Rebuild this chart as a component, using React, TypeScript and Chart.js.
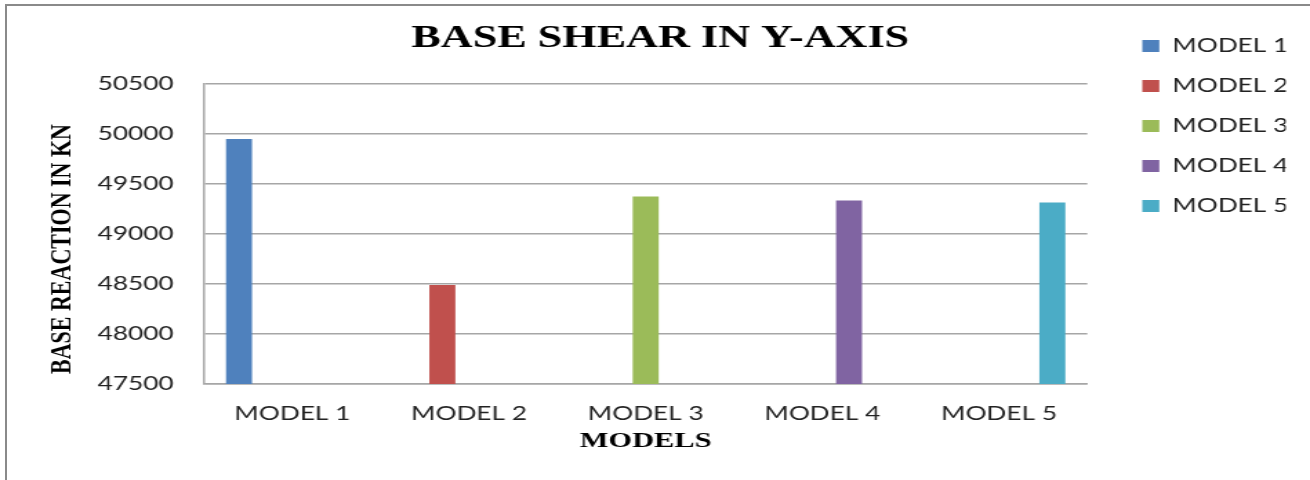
import React, { useEffect, useRef } from "react";
import { Chart, registerables } from "chart.js";

Chart.register(...registerables);

const CATEGORIES = ["MODEL 1", "MODEL 2", "MODEL 3", "MODEL 4", "MODEL 5"];
const SERIES_NAMES = ["MODEL 1", "MODEL 2", "MODEL 3", "MODEL 4", "MODEL 5"];
const VALUES = [49950, 48490, 49375, 49335, 49315];
const COLORS = ["#4F81BD", "#C0504D", "#9BBB59", "#8064A2", "#4BACC6"];
const Y_MIN = 47500;
const Y_MAX = 50500;
const Y_STEP = 500;
const TITLE = "BASE SHEAR IN Y-AXIS";
const Y_TITLE = "BASE REACTION IN KN";
const X_TITLE = "MODELS";

// The reference is horizontally stretched; draw on a narrower canvas and stretch it.
const STRETCH = 1.38;
const OUT_W = 1310;
const OUT_H = 480;
const CANVAS_W = Math.round(OUT_W / STRETCH);

const yTitlePlugin = {
  id: "yTitlePlugin",
  afterDraw(chart: any) {
    const ctx = chart.ctx;
    ctx.save();
    ctx.translate(45.3, 249);
    ctx.rotate(-Math.PI / 2);
    ctx.font = "bold 22px 'Liberation Serif'";
    ctx.fillStyle = "#000";
    ctx.textAlign = "center";
    ctx.textBaseline = "middle";
    ctx.fillText(Y_TITLE, 0, 0);
    ctx.restore();
  },
};

export default function App() {
  const ref = useRef<HTMLCanvasElement | null>(null);

  useEffect(() => {
    if (!ref.current) return;
    const datasets = SERIES_NAMES.map((name, i) => ({
      label: name,
      data: CATEGORIES.map((_, j) => (j === i ? VALUES[i] : null)),
      backgroundColor: COLORS[i],
      borderWidth: 0,
      categoryPercentage: 0.755,
      barPercentage: 0.975,
    }));
    const chart = new Chart(ref.current, {
      type: "bar",
      data: { labels: CATEGORIES, datasets },
      plugins: [yTitlePlugin],
      options: {
        responsive: false,
        animation: false,
        devicePixelRatio: 1,
        layout: { padding: { top: 15.5, left: 25.1, right: 17.5, bottom: 0 } },
        plugins: {
          title: {
            display: true,
            text: TITLE,
            color: "#000",
            font: { family: "'Liberation Serif'", size: 32, weight: "bold" },
            padding: { top: 3.8, bottom: 26.3 },
          },
          legend: {
            display: true,
            position: "right",
            align: "start",
            maxWidth: 125,
            labels: {
              boxWidth: 12.3,
              boxHeight: 12,
              padding: 21,
              color: "#222",
              font: { family: "Lato", size: 19 },
            },
          },
          tooltip: { enabled: false },
        },
        scales: {
          x: {
            grid: { display: false, drawTicks: false },
            border: { display: true, color: "#a6a6a6", width: 1.5 },
            ticks: {
              color: "#222",
              font: { family: "Lato", size: 19 },
              padding: 18,
              maxRotation: 0,
            },
            title: {
              display: true,
              text: X_TITLE,
              color: "#000",
              font: { family: "'Liberation Serif'", size: 22, weight: "bold" },
              padding: { top: 0, bottom: 25.3 },
            },
            afterFit: (s: any) => {
              s.height = 96;
            },
          },
          y: {
            min: Y_MIN,
            max: Y_MAX,
            grid: { display: true, color: "#a6a6a6", lineWidth: 1.5, drawTicks: false },
            border: { display: true, color: "#a6a6a6", width: 1.5 },
            ticks: {
              stepSize: Y_STEP,
              color: "#222",
              font: { family: "Lato", size: 19 },
              padding: 22,
              callback: (v: any) => String(v),
            },
            afterFit: (s: any) => {
              s.width = 122.7;
            },
          },
          gap: {
            type: "linear",
            position: "right",
            display: true,
            grid: { display: false, drawTicks: false },
            border: { display: false },
            ticks: { display: false },
            afterFit: (s: any) => {
              s.width = 18.8;
            },
          },
        },
      } as any,
    });
    return () => chart.destroy();
  }, []);

  return (
    <div
      style={{
        position: "fixed",
        left: 0,
        top: 0,
        width: OUT_W,
        height: OUT_H,
        overflow: "hidden",
        background: "#fff",
      }}
    >
      <div
        style={{
          position: "absolute",
          left: 5,
          top: 4,
          width: 1400,
          height: 600,
          border: "2px solid #8a8a8a",
        }}
      />
      <canvas
        ref={ref}
        width={CANVAS_W}
        height={OUT_H}
        style={{
          position: "absolute",
          left: 0,
          top: 0,
          width: OUT_W + "px",
          height: OUT_H + "px",
          display: "block",
        }}
      />
    </div>
  );
}
